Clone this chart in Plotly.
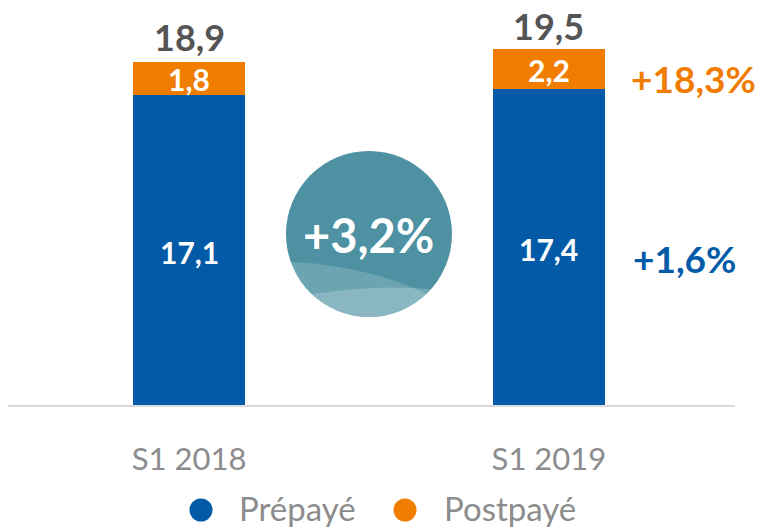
import math
import plotly.graph_objects as go

# ---- data ----
categories = ["S1 2018", "S1 2019"]
prepaye = [17.1, 17.4]
postpaye = [1.8, 2.2]
totaux = [18.9, 19.5]
prepaye_labels = ["17,1", "17,4"]
postpaye_labels = ["1,8", "2,2"]
total_labels = ["18,9", "19,5"]
series_names = ["Prépayé", "Postpayé"]
croissance_totale = "+3,2%"
croissance_postpaye = "+18,3%"
croissance_prepaye = "+1,6%"

# ---- style ----
BLUE = "#035BA8"
ORANGE = "#F07D00"
DARK = "#555555"
GREY = "#8C8C8C"
FONT = "Lato, 'Open Sans', 'DejaVu Sans', sans-serif"

W, H = 761, 528
ML, MR, MT, MB = 8, 26, 20, 123
PX_PER_UNIT = 18.15
YMAX = (H - MT - MB) / PX_PER_UNIT

fig = go.Figure()
fig.add_trace(go.Bar(x=categories, y=prepaye, name=series_names[0],
                     marker=dict(color=BLUE, line=dict(width=0)), width=0.311,
                     showlegend=False, hoverinfo="skip"))
fig.add_trace(go.Bar(x=categories, y=postpaye, name=series_names[1],
                     marker=dict(color=ORANGE, line=dict(width=0)), width=0.311,
                     showlegend=False, hoverinfo="skip"))

ann = []
shapes = []
for i, c in enumerate(categories):
    ann.append(dict(x=c, y=totaux[i], text=f"<b>{total_labels[i]}</b>", showarrow=False,
                    yanchor="middle", yshift=25, font=dict(size=36, color=DARK, family=FONT)))
    ann.append(dict(x=c, y=prepaye[i] + postpaye[i] / 2, text=f"<b>{postpaye_labels[i]}</b>",
                    showarrow=False, yanchor="middle", yshift=-1,
                    font=dict(size=30, color="white", family=FONT)))
    ann.append(dict(x=c, y=prepaye[i] / 2, text=f"<b>{prepaye_labels[i]}</b>",
                    showarrow=False, yanchor="middle", yshift=-2,
                    font=dict(size=30, color="white", family=FONT)))

ann.append(dict(x=categories[1], y=prepaye[1] + postpaye[1] / 2, text=f"<b>{croissance_postpaye}</b>",
                showarrow=False, xshift=145, yshift=-9, yanchor="middle",
                font=dict(size=37, color=ORANGE, family=FONT)))
ann.append(dict(x=categories[1], y=prepaye[1] / 2, text=f"<b>{croissance_prepaye}</b>",
                showarrow=False, xshift=136, yshift=-11, yanchor="middle",
                font=dict(size=37, color=BLUE, family=FONT)))

# central growth bubble
cy = 9.42
R = 83
shapes.append(dict(type="circle", xref="x", yref="y", xsizemode="pixel", ysizemode="pixel",
                   xanchor=0.5, yanchor=cy, x0=-R, x1=R, y0=-R, y1=R,
                   fillcolor="#4D91A2", line=dict(width=0), layer="above"))


def band(p_left, ctrl, p_right):
    a1 = math.atan2(p_right[1], p_right[0])
    a2 = math.atan2(p_left[1], p_left[0])
    if a2 > a1:
        a2 -= 2 * math.pi
    path = f"M {p_left[0]},{p_left[1]} Q {ctrl[0]},{ctrl[1]} {p_right[0]},{p_right[1]}"
    n = 30
    for k in range(1, n + 1):
        a = a1 + (a2 - a1) * k / n
        path += f" L {R*math.cos(a):.2f},{R*math.sin(a):.2f}"
    return path + " Z"


shapes.append(dict(type="path", xref="x", yref="y", xsizemode="pixel", ysizemode="pixel",
                   xanchor=0.5, yanchor=cy, path=band((-78.1, -28), (0, -32), (57.5, -59.8)),
                   fillcolor="rgba(255,255,255,0.18)", line=dict(width=0), layer="above"))
shapes.append(dict(type="path", xref="x", yref="y", xsizemode="pixel", ysizemode="pixel",
                   xanchor=0.5, yanchor=cy, path=band((-57, -60.2), (10, -50), (62, -55.2)),
                   fillcolor="rgba(255,255,255,0.2)", line=dict(width=0), layer="above"))

ann.append(dict(x=0.5, y=cy, text=f"<b>{croissance_totale}</b>", showarrow=False,
                yanchor="middle", yshift=-1, font=dict(size=47, color="white", family=FONT)))

# manual legend
colors = [BLUE, ORANGE]
leg_circle_px = [201, 405]
leg_text_px = [237, 442]
leg_y = (H - MB - 508) / (H - MT - MB)
for i, name in enumerate(series_names):
    xp = (leg_circle_px[i] - ML) / (W - ML - MR)
    shapes.append(dict(type="circle", xref="paper", yref="paper", xsizemode="pixel", ysizemode="pixel",
                       xanchor=xp, yanchor=leg_y - 2 / (H - MT - MB), x0=-11.5, x1=11.5, y0=-11.5, y1=11.5,
                       fillcolor=colors[i], line=dict(width=0)))
    ann.append(dict(xref="paper", yref="paper", x=(leg_text_px[i] - ML) / (W - ML - MR), y=leg_y,
                    text=name, showarrow=False, xanchor="left", yanchor="middle",
                    font=dict(size=33, color=GREY, family=FONT)))

fig.update_layout(
    width=W, height=H, barmode="stack",
    margin=dict(l=ML, r=MR, t=MT, b=MB),
    paper_bgcolor="white", plot_bgcolor="white",
    showlegend=False,
    xaxis=dict(range=[-0.503, 1.517], showline=True, linecolor="#D9D9D9", linewidth=2,
               showgrid=False, zeroline=False, ticks="", ticklabelstandoff=26,
               tickfont=dict(size=31, color=GREY, family=FONT)),
    yaxis=dict(range=[0, YMAX], visible=False),
    annotations=ann, shapes=shapes,
)

fig.write_html("out.html", config={"displayModeBar": False},
               post_script="document.body.style.margin='0';document.body.style.overflow='hidden';")
